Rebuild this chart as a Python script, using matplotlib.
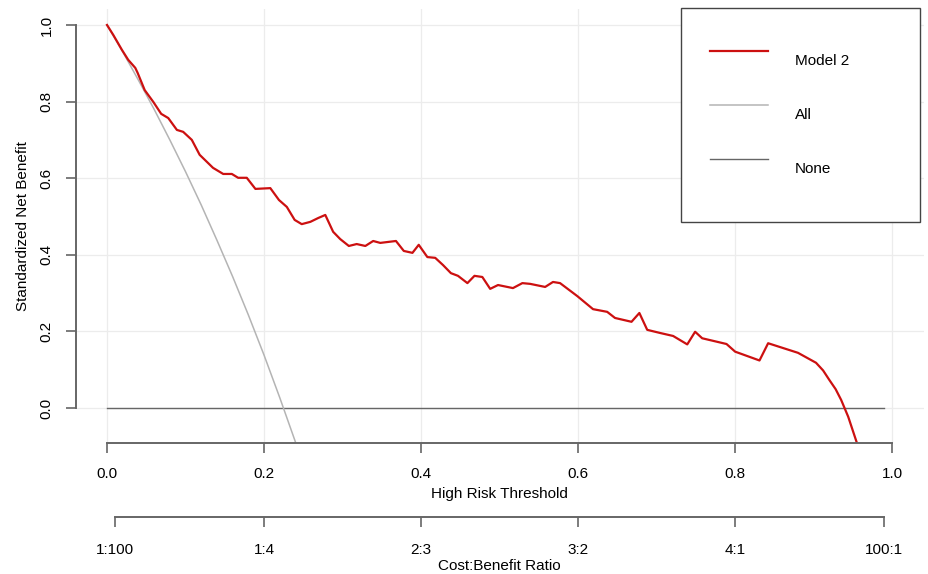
import numpy as np
import matplotlib
matplotlib.use("Agg")
import matplotlib.pyplot as plt

plt.rcParams['font.family'] = ['Liberation Sans', 'DejaVu Sans']

# decision curve
thresholds = [0.0, 0.008, 0.019, 0.027, 0.036, 0.039, 0.048, 0.059, 0.069, 0.078,
              0.089, 0.097, 0.108, 0.118, 0.135, 0.148, 0.159, 0.167, 0.178, 0.189,
              0.208, 0.219, 0.229, 0.239, 0.248, 0.259, 0.269, 0.278, 0.288, 0.297,
              0.308, 0.318, 0.329, 0.339, 0.348, 0.368, 0.378, 0.389, 0.397, 0.408,
              0.418, 0.428, 0.438, 0.447, 0.459, 0.468, 0.478, 0.488, 0.498, 0.517,
              0.529, 0.539, 0.558, 0.568, 0.577, 0.599, 0.619, 0.637, 0.647, 0.668,
              0.678, 0.688, 0.704, 0.721, 0.739, 0.749, 0.758, 0.789, 0.800, 0.831,
              0.842, 0.880, 0.903, 0.912, 0.920, 0.928, 0.935, 0.944, 0.955]
model2 = [1.000, 0.974, 0.935, 0.909, 0.888, 0.875, 0.830, 0.799, 0.768, 0.757,
          0.726, 0.721, 0.700, 0.661, 0.627, 0.611, 0.611, 0.601, 0.601, 0.572,
          0.574, 0.543, 0.525, 0.491, 0.480, 0.486, 0.496, 0.504, 0.460, 0.441,
          0.423, 0.428, 0.423, 0.436, 0.431, 0.436, 0.410, 0.405, 0.426, 0.394,
          0.392, 0.373, 0.352, 0.345, 0.326, 0.345, 0.342, 0.311, 0.321, 0.313,
          0.326, 0.324, 0.316, 0.329, 0.326, 0.292, 0.258, 0.251, 0.235, 0.225,
          0.248, 0.204, 0.196, 0.188, 0.166, 0.199, 0.182, 0.167, 0.147, 0.124,
          0.169, 0.144, 0.118, 0.098, 0.073, 0.049, 0.021, -0.023, -0.091]

all_t = [0.0, 0.02, 0.04, 0.06, 0.08, 0.10, 0.12, 0.14, 0.16, 0.18, 0.20, 0.22, 0.24, 0.245]
all_nb = [1.0, 0.930, 0.856, 0.780, 0.700, 0.617, 0.530, 0.438, 0.343, 0.243, 0.138, 0.027, -0.089, -0.120]

none_t = [0.0, 0.99]
none_nb = [0.0, 0.0]

x_ticks = [0.0, 0.2, 0.4, 0.6, 0.8, 1.0]
y_ticks = [0.0, 0.2, 0.4, 0.6, 0.8, 1.0]
cb_ticks = [1 / 101, 0.2, 0.4, 0.6, 0.8, 100 / 101]
cb_labels = ["1:100", "1:4", "2:3", "3:2", "4:1", "100:1"]

W, H = 929, 574
fig = plt.figure(figsize=(W / 100, H / 100), dpi=100)

def frac(x0, y0, x1, y1):
    # pixel box -> figure fraction [l, b, w, h]
    return [x0 / W, 1 - y1 / H, (x1 - x0) / W, (y1 - y0) / H]

ax = fig.add_axes(frac(75.6, 8.9, 923.6, 443.2))
ax.set_xlim(-0.04, 1.04)
ax.set_ylim(-0.092, 1.042)

ax.grid(True, color='#ececec', linewidth=0.9)
ax.set_axisbelow(True)
ax.set_xticks(x_ticks)
ax.set_yticks(y_ticks)

ax.plot(none_t, none_nb, color='#666666', lw=1.0, label='None')
ax.plot(all_t, all_nb, color='#b4b4b4', lw=1.1, label='All')
ax.plot(thresholds, model2, color='#cc1010', lw=1.6, label='Model 2')

axis_col = '#666666'
for s in ['top', 'right']:
    ax.spines[s].set_visible(False)
ax.spines['left'].set_bounds(0, 1)
ax.spines['bottom'].set_bounds(0, 1)
for s in ['left', 'bottom']:
    ax.spines[s].set_color(axis_col)
    ax.spines[s].set_linewidth(1.4)
ax.tick_params(axis='both', direction='out', color=axis_col, width=1.2, length=7)
ax.tick_params(axis='x', pad=10, labelsize=11)
ax.tick_params(axis='y', pad=9, labelsize=11)
ax.set_xticklabels(["0.0", "0.2", "0.4", "0.6", "0.8", "1.0"])
for lab in ax.get_yticklabels():
    lab.set_rotation(90)
    lab.set_va('center')
ax.set_xlabel("High Risk Threshold", fontsize=11, labelpad=4.5)
ax.set_ylabel("Standardized Net Benefit", fontsize=11, labelpad=7)

# cost:benefit axis underneath
ax2 = fig.add_axes(frac(75.6, 516, 923.6, 517))
ax2.set_xlim(-0.04, 1.04)
ax2.set_yticks([])
ax2.patch.set_visible(False)
for s in ['top', 'right', 'left']:
    ax2.spines[s].set_visible(False)
ax2.spines['bottom'].set_bounds(cb_ticks[0], cb_ticks[-1])
ax2.spines['bottom'].set_color(axis_col)
ax2.spines['bottom'].set_linewidth(1.4)
ax2.set_xticks(cb_ticks)
ax2.set_xticklabels(cb_labels)
ax2.tick_params(axis='x', direction='out', color=axis_col, width=1.2, length=7,
                pad=11.5, labelsize=11)
ax2.set_xlabel("Cost:Benefit Ratio", fontsize=11, labelpad=1.5)

# legend box in the upper right
h, l = ax.get_legend_handles_labels()
order = [2, 1, 0]
leg = ax.legend([h[i] for i in order], [l[i] for i in order],
                loc='upper left', bbox_to_anchor=frac(681, 8, 920, 222),
                bbox_transform=fig.transFigure, mode='expand', borderaxespad=0,
                fontsize=11, handlelength=3.8, handleheight=4.44, labelspacing=0.40,
                handletextpad=1.77, borderpad=1.9, fancybox=False, framealpha=1)
leg.get_frame().set_edgecolor('#444444')
leg.get_frame().set_linewidth(1.0)

fig.savefig("out.png", dpi=100)
